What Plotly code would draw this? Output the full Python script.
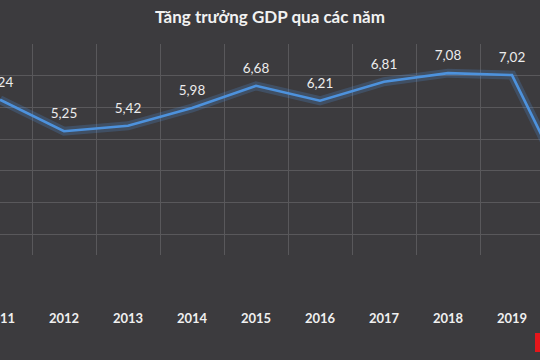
import plotly.graph_objects as go

years = [2011, 2012, 2013, 2014, 2015, 2016, 2017, 2018, 2019, 2020]
gdp_growth = [6.24, 5.25, 5.42, 5.98, 6.68, 6.21, 6.81, 7.08, 7.02, 2.91]
tick_labels = [str(y) for y in years]
value_labels = [f"{v:.2f}".replace(".", ",") for v in gdp_growth]
title_text = "Tăng trưởng GDP qua các năm"

BG = "#3c3b3e"
GRID = "#59585b"
LINE = "#4d92dd"
FONT = "Lato"

fig = go.Figure()
# glow under the line
fig.add_trace(go.Scatter(
    x=years, y=gdp_growth, mode="lines",
    line=dict(color="rgba(80,150,230,0.22)", width=9),
    hoverinfo="skip", showlegend=False,
))
fig.add_trace(go.Scatter(
    x=years, y=gdp_growth, mode="lines+markers+text",
    line=dict(color=LINE, width=2.6),
    marker=dict(size=14, opacity=0, color=LINE),
    text=value_labels, textposition="top center",
    textfont=dict(family=FONT, size=13.5, color="#ececec"),
    showlegend=False,
))

fig.update_layout(
    width=540, height=360,
    margin=dict(l=0, r=0, t=44, b=105),
    paper_bgcolor=BG, plot_bgcolor=BG,
    title=dict(text=f"<b>{title_text}</b>", x=0.5, xanchor="center",
               y=1 - 17 / 360, yanchor="middle",
               font=dict(family=FONT, size=17, color="#f2f2f2")),
    xaxis=dict(
        range=[2011, 2011 + 540 / 64], tickmode="array",
        tickvals=years, ticktext=[f"<b>{t}</b>" for t in tick_labels],
        showgrid=False, zeroline=False, showline=False, ticks="",
        ticklabelstandoff=54, ticklabeloverflow="allow", automargin=False,
        tickfont=dict(family=FONT, size=13, color="#f0f0f0"),
        minor=dict(tickmode="array", tickvals=[y + 0.5 for y in years[:-1]],
                   showgrid=True, gridcolor=GRID, gridwidth=1, ticks=""),
    ),
    yaxis=dict(
        range=[8 - 211 / 31.7, 8], dtick=1, showgrid=True, gridcolor=GRID,
        gridwidth=1, zeroline=False, showticklabels=False, ticks="",
        showline=False, automargin=False,
    ),
    shapes=[dict(type="rect", xref="paper", yref="paper",
                 x0=535 / 540, x1=1.02, y0=(255 - 352) / 211, y1=(255 - 333) / 211,
                 fillcolor="#e5161b", line=dict(width=0), layer="above")],
)

fig.write_html(
    "out.html",
    config={"displayModeBar": False},
    post_script="document.body.style.margin='0';document.body.style.overflow='hidden';document.body.style.background='" + BG + "';",
)
